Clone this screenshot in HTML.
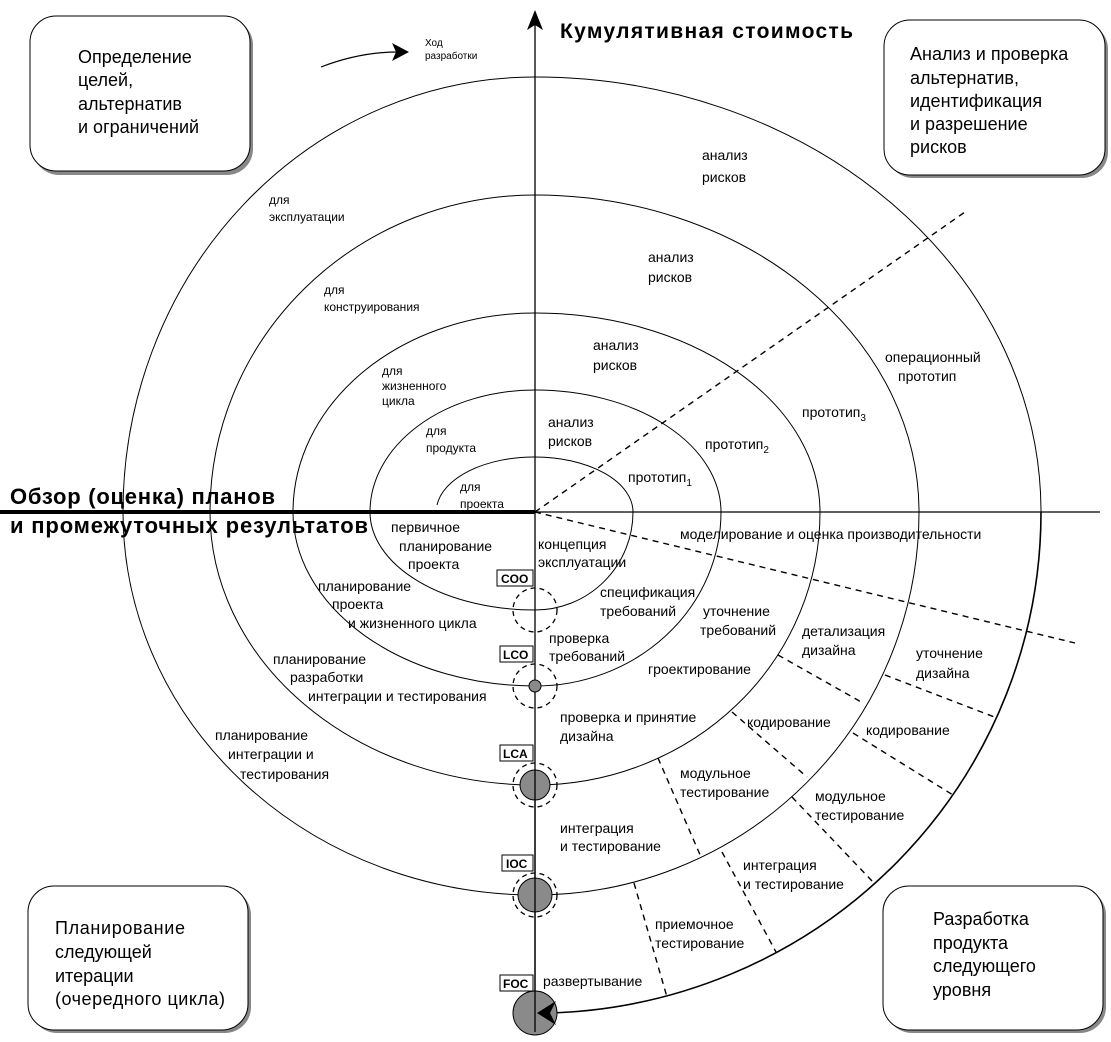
<!DOCTYPE html>
<html><head><meta charset="utf-8"><style>
html,body{margin:0;padding:0;background:#fff;}
svg{display:block;}
text{font-family:"Liberation Sans",Arial,sans-serif;fill:#000;}
.s{font-size:14px;}
.b{font-size:18px;}
</style></head><body>
<svg width="1111" height="1042" viewBox="0 0 1111 1042" xmlns="http://www.w3.org/2000/svg">
<g stroke="#000" stroke-width="1" fill="#fff">
<rect x="33" y="19" width="220" height="156" rx="26" fill="#888" stroke="none"/>
<rect x="30" y="16" width="220" height="155" rx="26"/>
<rect x="887" y="23" width="221" height="155" rx="26" fill="#888" stroke="none"/>
<rect x="884" y="20" width="221" height="155" rx="26"/>
<rect x="31" y="889" width="220" height="144" rx="26" fill="#888" stroke="none"/>
<rect x="28" y="886" width="220" height="144" rx="26"/>
<rect x="886" y="889" width="220" height="144" rx="26" fill="#888" stroke="none"/>
<rect x="883" y="886" width="220" height="144" rx="26"/>
</g>
<g class="b">
<text x="78" y="63">Определение</text>
<text x="78" y="86">целей,</text>
<text x="78" y="110">альтернатив</text>
<text x="78" y="133">и ограничений</text>
<text x="910" y="60">Анализ и проверка</text>
<text x="910" y="84">альтернатив,</text>
<text x="910" y="107">идентификация</text>
<text x="910" y="130">и разрешение</text>
<text x="910" y="153">рисков</text>
<text x="55" y="934" textLength="130">Планирование</text>
<text x="55" y="958">следующей</text>
<text x="55" y="982">итерации</text>
<text x="55" y="1005" textLength="170">(очередного цикла)</text>
<text x="933" y="925">Разработка</text>
<text x="933" y="949">продукта</text>
<text x="933" y="972">следующего</text>
<text x="933" y="996">уровня</text>
</g>
<text x="560" y="38" font-size="21" font-weight="bold" textLength="293">Кумулятивная стоимость</text>
<text x="10" y="504" font-size="22" font-weight="bold" textLength="265">Обзор (оценка) планов</text>
<text x="10" y="533" font-size="22" font-weight="bold" textLength="358">и промежуточных результатов</text>

<line x1="535" y1="20" x2="535" y2="1032" stroke="#000" stroke-width="1.3"/>
<polygon points="535,10 527,30 535,25 543,30" fill="#000"/>
<line x1="0" y1="512" x2="535" y2="512" stroke="#000" stroke-width="4"/>
<line x1="535" y1="512" x2="1100" y2="512" stroke="#000" stroke-width="1.3"/>

<path d="M321,67 Q360,52 398,52" fill="none" stroke="#000" stroke-width="1.2"/>
<polygon points="409,52 392,43 396,52 392,61" fill="#000"/>
<text x="425" y="46" font-size="10">Ход</text>
<text x="425" y="59" font-size="10">разработки</text>

<path d="M437,505 A98,55 0 0 1 535,457 A98,55 0 0 1 633,512 A98,98 0 0 1 535,610 A165,98 0 0 1 370,512 A165,122 0 0 1 535,390 A186,122 0 0 1 721,512 A186,174 0 0 1 535,686 A242,174 0 0 1 293,512 A242,199 0 0 1 535,313 A285,199 0 0 1 820,512 A285,273 0 0 1 535,785 A325,273 0 0 1 210,512 A325,317 0 0 1 535,195 A384,317 0 0 1 919,512 A384,383 0 0 1 535,895 A412,383 0 0 1 123,512 A412,435 0 0 1 535,77 A506,435 0 0 1 1041,512" fill="none" stroke="#000" stroke-width="1"/>
<path d="M1041,512 A506,501 0 0 1 548,1013" fill="none" stroke="#000" stroke-width="1.6"/>

<g stroke="#000" stroke-width="1.4" stroke-dasharray="6,5" fill="none">
<line x1="535" y1="512" x2="965" y2="212"/>
<line x1="535" y1="512" x2="1075" y2="643"/>
<line x1="778" y1="655" x2="863" y2="703"/>
<line x1="885" y1="675" x2="997" y2="718"/>
<line x1="732" y1="712" x2="807" y2="777"/>
<line x1="853" y1="733" x2="953" y2="795"/>
<line x1="658" y1="758" x2="701" y2="857"/>
<line x1="792" y1="797" x2="873" y2="882"/>
<line x1="722" y1="852" x2="776" y2="952"/>
<line x1="634" y1="883" x2="667" y2="997"/>
</g>

<g stroke="#000" stroke-width="1.3" stroke-dasharray="5,4" fill="none">
<circle cx="535" cy="610" r="22"/>
<circle cx="535" cy="686" r="22"/>
<circle cx="535" cy="785" r="22"/>
<circle cx="535" cy="895" r="22"/>
</g>
<g fill="#8a8a8a" stroke="#000" stroke-width="1">
<circle cx="535" cy="686" r="6"/>
<circle cx="535" cy="785" r="15"/>
<circle cx="535" cy="895" r="17"/>
<circle cx="535" cy="1013" r="22"/>
</g>
<line x1="535" y1="770" x2="535" y2="1032" stroke="#000" stroke-width="1.3"/>
<polygon points="537,1013 556,1001 550,1013 556,1025" fill="#000"/>
<g fill="#fff" stroke="#000" stroke-width="1">
<rect x="497" y="570" width="36" height="16"/>
<rect x="500" y="646" width="33" height="16"/>
<rect x="500" y="745" width="33" height="16"/>
<rect x="502" y="855" width="31" height="16"/>
<rect x="500" y="975" width="33" height="16"/>
</g>
<g font-size="12" font-weight="bold">
<text x="501" y="583">COO</text>
<text x="503" y="659">LCO</text>
<text x="503" y="758">LCA</text>
<text x="506" y="868">IOC</text>
<text x="503" y="988">FOC</text>
</g>

<g class="s">
<text x="702" y="160">анализ</text><text x="702" y="182">рисков</text>
<text x="269" y="204" font-size="12">для</text><text x="269" y="221" font-size="12">эксплуатации</text>
<text x="648" y="262">анализ</text><text x="648" y="282">рисков</text>
<text x="324" y="294" font-size="12">для</text><text x="324" y="311" font-size="12">конструирования</text>
<text x="593" y="350">анализ</text><text x="593" y="370">рисков</text>
<text x="382" y="375" font-size="12">для</text><text x="382" y="390" font-size="12">жизненного</text><text x="382" y="405" font-size="12">цикла</text>
<text x="885" y="362">операционный</text><text x="898" y="381">прототип</text>
<text x="802" y="417">прототип<tspan font-size="10" dy="4">3</tspan></text>
<text x="548" y="427">анализ</text><text x="548" y="446">рисков</text>
<text x="426" y="435" font-size="12">для</text><text x="426" y="452" font-size="12">продукта</text>
<text x="705" y="449">прототип<tspan font-size="10" dy="4">2</tspan></text>
<text x="628" y="482">прототип<tspan font-size="10" dy="4">1</tspan></text>
<text x="460" y="491" font-size="12">для</text><text x="460" y="508" font-size="12">проекта</text>
<text x="680" y="539">моделирование и оценка производительности</text>
<text x="391" y="532">первичное</text><text x="399" y="551">планирование</text><text x="408" y="569">проекта</text>
<text x="538" y="549">концепция</text><text x="538" y="567">эксплуатации</text>
<text x="318" y="591">планирование</text><text x="332" y="609">проекта</text><text x="348" y="628">и жизненного цикла</text>
<text x="600" y="597">спецификация</text><text x="600" y="616">требований</text>
<text x="703" y="616">уточнение</text><text x="700" y="635">требований</text>
<text x="802" y="636">детализация</text><text x="802" y="655">дизайна</text>
<text x="916" y="658">уточнение</text><text x="916" y="678">дизайна</text>
<text x="549" y="643">проверка</text><text x="549" y="661">требований</text>
<text x="648" y="674">гроектирование</text>
<text x="273" y="664">планирование</text><text x="290" y="682">разработки</text><text x="308" y="701">интеграции и тестирования</text>
<text x="560" y="722">проверка и принятие</text><text x="560" y="741">дизайна</text>
<text x="747" y="727">кодирование</text>
<text x="866" y="735">кодирование</text>
<text x="215" y="740">планирование</text><text x="228" y="759">интеграции и</text><text x="240" y="779">тестирования</text>
<text x="680" y="778">модульное</text><text x="680" y="797">тестирование</text>
<text x="815" y="801">модульное</text><text x="815" y="820">тестирование</text>
<text x="560" y="833">интеграция</text><text x="560" y="851">и тестирование</text>
<text x="743" y="870">интеграция</text><text x="743" y="889">и тестирование</text>
<text x="655" y="929">приемочное</text><text x="655" y="948">тестирование</text>
<text x="543" y="986">развертывание</text>
</g>
</svg>
</body></html>
